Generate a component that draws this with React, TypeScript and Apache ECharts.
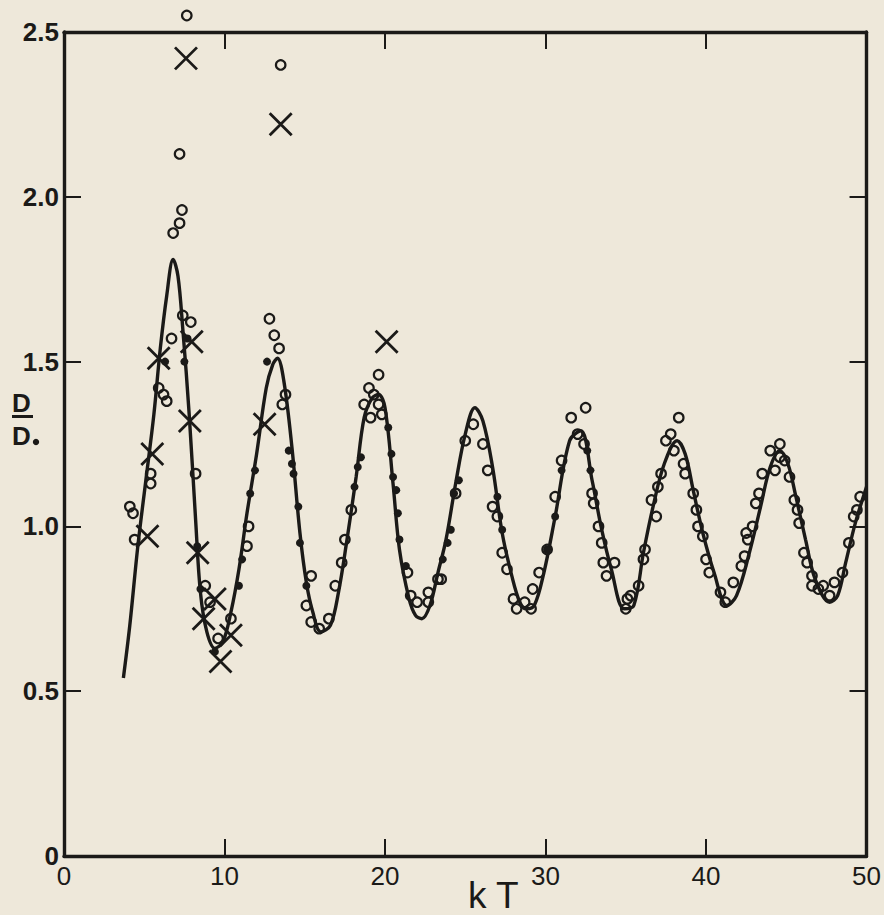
import React, { useEffect, useRef } from "react";
import * as echarts from "echarts";

// ---- data ----
const xTickLabels = ["0", "10", "20", "30", "40", "50"];
const yTickLabels = ["0", "0.5", "1.0", "1.5", "2.0", "2.5"];

// fitted solid curve
const curveX = [3.7, 4.1, 4.6, 5.1, 5.6, 6.0, 6.4, 6.8, 7.1, 7.4, 7.8, 8.2, 8.5, 8.9, 9.4, 9.9, 10.4, 10.9, 11.4, 12.0, 12.6, 13.0, 13.3, 13.7, 14.2, 14.7, 15.1, 15.5, 16.0, 16.6, 17.1, 17.6, 18.2, 18.7, 19.2, 19.6, 20.0, 20.5, 20.9, 21.5, 21.9, 22.3, 22.8, 23.3, 23.8, 24.4, 25.0, 25.6, 26.1, 26.7, 27.3, 27.9, 28.4, 28.8, 29.3, 29.9, 30.6, 31.5, 32.2, 32.9, 33.5, 34.1, 34.9, 35.5, 36.1, 36.7, 37.4, 38.2, 38.7, 39.2, 39.8, 40.5, 41.3, 41.9, 42.7, 43.4, 44.0, 44.6, 45.1, 45.6, 46.2, 46.8, 47.7, 48.2, 48.7, 49.3, 50.0];
const curveY = [0.54, 0.70, 0.94, 1.14, 1.34, 1.54, 1.70, 1.81, 1.76, 1.60, 1.34, 1.02, 0.80, 0.68, 0.63, 0.65, 0.74, 0.87, 1.04, 1.22, 1.42, 1.49, 1.51, 1.44, 1.24, 0.98, 0.83, 0.74, 0.68, 0.70, 0.80, 0.95, 1.15, 1.33, 1.39, 1.40, 1.36, 1.13, 0.93, 0.78, 0.73, 0.72, 0.76, 0.86, 0.96, 1.13, 1.28, 1.36, 1.32, 1.18, 0.98, 0.85, 0.77, 0.75, 0.76, 0.86, 1.03, 1.26, 1.29, 1.14, 0.99, 0.87, 0.75, 0.76, 0.92, 1.06, 1.19, 1.26, 1.22, 1.11, 0.98, 0.86, 0.76, 0.79, 0.92, 1.06, 1.18, 1.23, 1.19, 1.09, 0.96, 0.84, 0.77, 0.79, 0.89, 1.01, 1.12];

// open circles
const circleX = [7.65, 7.2, 7.35, 7.2, 6.8, 13.5, 7.4, 7.9, 6.7, 5.9, 6.2, 6.4, 5.4, 5.4, 8.2, 4.1, 4.3, 4.4, 8.8, 9.1, 9.6, 10.4, 11.5, 11.4, 12.8, 13.1, 13.4, 13.8, 13.6, 15.4, 15.1, 15.4, 15.9, 16.5, 16.9, 17.3, 17.9, 17.5, 19.6, 19.0, 18.7, 19.6, 19.8, 19.1, 19.3, 21.4, 21.6, 22.0, 22.7, 22.7, 23.3, 23.5, 25.5, 25.0, 26.1, 26.4, 24.4, 26.7, 27.0, 27.3, 27.6, 28.0, 28.2, 28.7, 29.1, 29.2, 29.6, 30.1, 30.6, 31.0, 31.6, 32.5, 32.0, 32.4, 32.9, 33.0, 33.3, 33.5, 33.6, 34.3, 33.8, 35.1, 35.0, 35.3, 35.8, 36.1, 36.2, 36.9, 36.6, 37.0, 37.2, 38.3, 37.8, 37.5, 38.0, 38.6, 38.7, 39.2, 39.4, 39.5, 39.8, 40.0, 40.2, 41.7, 40.9, 41.2, 42.2, 42.4, 42.6, 42.5, 42.9, 43.1, 43.3, 43.5, 44.3, 44.0, 44.6, 44.6, 44.9, 45.2, 45.5, 45.7, 45.8, 46.1, 46.3, 46.6, 46.6, 47.0, 47.3, 47.7, 48.0, 48.5, 48.9, 49.2, 49.4, 49.6];
const circleY = [2.55, 2.13, 1.96, 1.92, 1.89, 2.40, 1.64, 1.62, 1.57, 1.42, 1.40, 1.38, 1.16, 1.13, 1.16, 1.06, 1.04, 0.96, 0.82, 0.77, 0.66, 0.72, 1.00, 0.94, 1.63, 1.58, 1.54, 1.40, 1.37, 0.85, 0.76, 0.71, 0.69, 0.72, 0.82, 0.89, 1.05, 0.96, 1.46, 1.42, 1.37, 1.37, 1.34, 1.33, 1.40, 0.86, 0.79, 0.77, 0.77, 0.80, 0.84, 0.84, 1.31, 1.26, 1.25, 1.17, 1.10, 1.06, 1.03, 0.92, 0.87, 0.78, 0.75, 0.77, 0.75, 0.81, 0.86, 0.93, 1.09, 1.20, 1.33, 1.36, 1.28, 1.25, 1.10, 1.07, 1.00, 0.95, 0.89, 0.89, 0.85, 0.78, 0.75, 0.79, 0.82, 0.90, 0.93, 1.03, 1.08, 1.12, 1.16, 1.33, 1.28, 1.26, 1.23, 1.19, 1.16, 1.10, 1.05, 1.00, 0.97, 0.90, 0.86, 0.83, 0.80, 0.77, 0.88, 0.91, 0.96, 0.98, 1.00, 1.07, 1.10, 1.16, 1.17, 1.23, 1.25, 1.21, 1.20, 1.15, 1.08, 1.05, 1.01, 0.92, 0.89, 0.85, 0.82, 0.81, 0.82, 0.79, 0.83, 0.86, 0.95, 1.03, 1.05, 1.09];

// crosses
const crossX = [7.6, 13.5, 20.1, 5.2, 5.5, 5.9, 7.96, 7.84, 8.33, 8.7, 9.4, 9.75, 10.4, 12.5];
const crossY = [2.42, 2.22, 1.56, 0.97, 1.22, 1.51, 1.56, 1.32, 0.92, 0.72, 0.78, 0.59, 0.67, 1.31];

// filled dots
const dotX = [6.3, 7.5, 7.7, 8.3, 8.5, 9.4, 10.9, 11.1, 11.6, 11.9, 12.65, 14.0, 14.2, 14.3, 14.6, 14.7, 15.1, 18.1, 18.3, 18.5, 20.2, 20.4, 20.5, 20.7, 20.8, 20.9, 21.3, 23.6, 23.9, 24.1, 24.3, 24.6, 27.0, 27.3, 30.1, 30.6, 31.0, 32.6, 32.8];
const dotY = [1.50, 1.50, 1.57, 0.94, 0.81, 0.62, 0.82, 0.90, 1.10, 1.17, 1.50, 1.23, 1.19, 1.16, 1.06, 0.95, 0.82, 1.12, 1.18, 1.21, 1.30, 1.22, 1.15, 1.11, 1.04, 0.96, 0.88, 0.90, 0.95, 0.99, 1.10, 1.14, 1.09, 0.99, 0.93, 1.03, 1.17, 1.23, 1.17];

const INK = "#1b1a18";
const PAPER = "#eee8da";

const zip = (xs: number[], ys: number[]) => xs.map((x, i) => [x, ys[i]]);

export default function App() {
  const ref = useRef<HTMLDivElement>(null);
  useEffect(() => {
    if (!ref.current) return;
    const chart = echarts.init(ref.current, undefined, { renderer: "svg" });
    const tickStyle = { show: true, inside: true, length: 17, lineStyle: { color: INK, width: 2 } };
    const lineStyle = { show: true, onZero: false, lineStyle: { color: INK, width: 3.4 } };
    chart.setOption({
      animation: false,
      backgroundColor: PAPER,
      grid: { left: 64, top: 32, right: 10, bottom: 59, containLabel: false },
      xAxis: [
        {
          type: "value", min: 0, max: 50, interval: 10, position: "bottom",
          axisLine: lineStyle, axisTick: tickStyle, splitLine: { show: false },
          axisLabel: {
            margin: 7, color: INK, fontSize: 26, fontFamily: "Liberation Sans",
            formatter: (v: number) => xTickLabels[Math.round(v / 10)] ?? "",
          },
        },
        {
          type: "value", min: 0, max: 50, interval: 10, position: "top",
          axisLine: lineStyle, axisTick: tickStyle, splitLine: { show: false },
          axisLabel: { show: false },
        },
      ],
      yAxis: [
        {
          type: "value", min: 0, max: 2.5, interval: 0.5, position: "left",
          axisLine: lineStyle, axisTick: tickStyle, splitLine: { show: false },
          axisLabel: {
            margin: 5, color: INK, fontSize: 26, fontWeight: "bold", fontFamily: "Liberation Sans",
            formatter: (v: number) => yTickLabels[Math.round(v / 0.5)] ?? "",
          },
        },
        {
          type: "value", min: 0, max: 2.5, interval: 0.5, position: "right",
          axisLine: lineStyle, axisTick: tickStyle, splitLine: { show: false },
          axisLabel: { show: false },
        },
      ],
      series: [
        {
          type: "line", data: zip(curveX, curveY), smooth: 0.35, symbol: "none",
          lineStyle: { color: INK, width: 3.4 }, z: 2,
        },
        {
          type: "scatter", data: zip(dotX, dotY), symbol: "circle", symbolSize: 8,
          itemStyle: { color: INK, opacity: 1 }, z: 3,
        },
        {
          type: "scatter", data: zip(circleX, circleY), symbol: "circle", symbolSize: 9.5, clip: false,
          itemStyle: { color: "rgba(0,0,0,0)", borderColor: INK, borderWidth: 2.2, opacity: 1 }, z: 4,
        },
        {
          type: "scatter", data: zip(crossX, crossY), symbol: "path://M0,0L10,10M10,0L0,10",
          symbolSize: 22, clip: false,
          itemStyle: { color: "rgba(0,0,0,0)", borderColor: INK, borderWidth: 2.8, opacity: 1 }, z: 5,
        },
      ],
      graphic: [
        { type: "text", left: 12, top: 390, style: { text: "D", fontSize: 26, fontWeight: "bold", fontFamily: "Liberation Sans", fill: INK } },
        { type: "rect", left: 12, top: 415, shape: { width: 21, height: 3 }, style: { fill: INK } },
        { type: "text", left: 12, top: 423, style: { text: "D", fontSize: 26, fontWeight: "bold", fontFamily: "Liberation Sans", fill: INK } },
        { type: "circle", shape: { cx: 36, cy: 442, r: 3.2 }, style: { fill: INK } },
        { type: "text", left: 468, top: 877, style: { text: "k T", fontSize: 37, fontFamily: "Liberation Sans", fill: INK } },
      ],
    });
    return () => chart.dispose();
  }, []);
  return (
    <div
      ref={ref}
      style={{ position: "fixed", left: 0, top: 0, width: 884, height: 915, background: PAPER }}
    />
  );
}
